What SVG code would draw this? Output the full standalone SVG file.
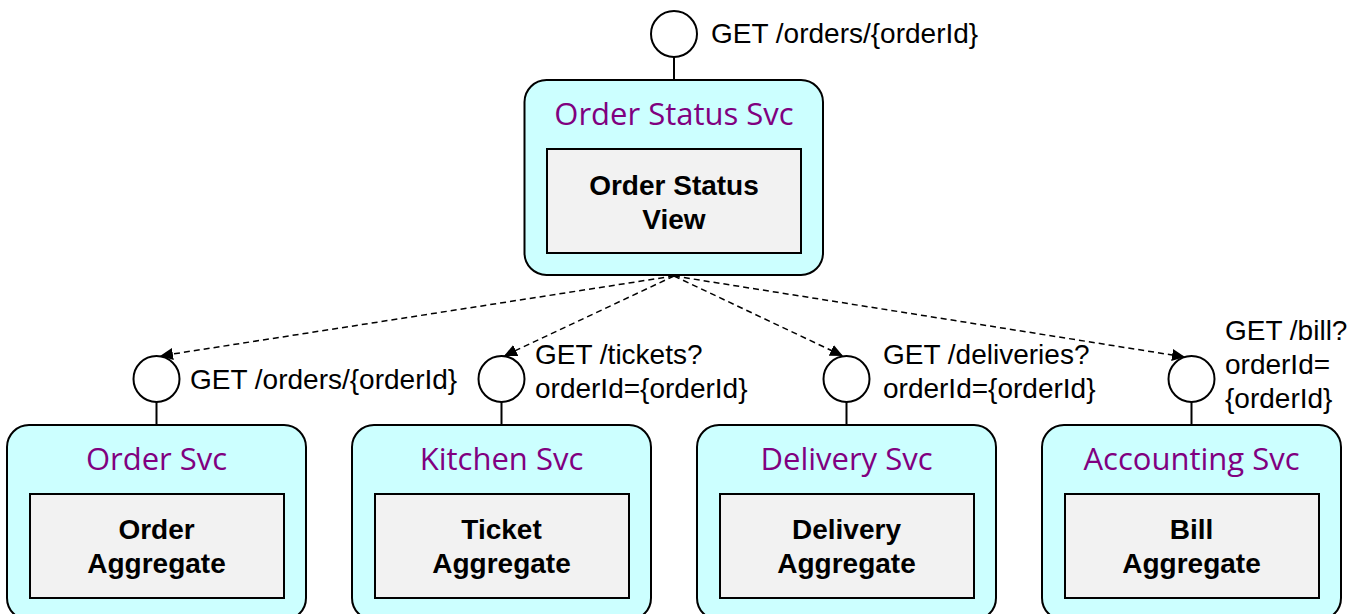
<svg xmlns="http://www.w3.org/2000/svg" width="1362" height="614" viewBox="0 0 1362 614">
<style>
.svc{fill:#ccffff;stroke:#000;stroke-width:2}
.agg{fill:#f2f2f2;stroke:#000;stroke-width:2}
.port{fill:#fff;stroke:#000;stroke-width:2}
.stem{stroke:#000;stroke-width:2;fill:none}
.title{font-family:"Open Sans","Noto Sans",sans-serif;font-size:31px;fill:#800080;text-anchor:middle}
.bold{font-family:"Liberation Sans",Arial,sans-serif;font-size:28px;font-weight:bold;fill:#000;text-anchor:middle}
.lbl{font-family:"Liberation Sans",Arial,sans-serif;font-size:28px;fill:#000}
.dash{stroke:#000;stroke-width:1.5;stroke-dasharray:6 4;fill:none;marker-end:url(#ah)}
</style>
<defs>
<marker id="ah" markerUnits="userSpaceOnUse" markerWidth="14" markerHeight="12" refX="13" refY="6" orient="auto">
<path d="M0,0 L13,6 L0,12 Z" fill="#000"/>
</marker>
</defs>
<rect width="1362" height="614" fill="#fff"/>

<g id="order-status-svc">
<line class="stem" x1="674" y1="57" x2="674" y2="80"/>
<circle class="port" cx="674" cy="34" r="23"/>
<text class="lbl" x="711" y="43">GET /orders/{orderId}</text>
<rect class="svc" x="524.5" y="80" width="298.5" height="195" rx="22"/>
<text class="title" x="674" y="125">Order Status Svc</text>
<rect class="agg" x="547" y="149" width="254" height="104"/>
<text class="bold" x="674" y="195">Order Status</text>
<text class="bold" x="674" y="229">View</text>
</g>

<g id="order-svc">
<line class="stem" x1="156.5" y1="402" x2="156.5" y2="425"/>
<circle class="port" cx="156.5" cy="379" r="23"/>
<text class="lbl" x="190" y="389">GET /orders/{orderId}</text>
<rect class="svc" x="7" y="425" width="299" height="195" rx="22"/>
<text class="title" x="156.5" y="470">Order Svc</text>
<rect class="agg" x="30" y="494" width="254" height="104"/>
<text class="bold" x="156.5" y="539">Order</text>
<text class="bold" x="156.5" y="573">Aggregate</text>
</g>

<g id="kitchen-svc">
<line class="stem" x1="501.5" y1="402" x2="501.5" y2="425"/>
<circle class="port" cx="501.5" cy="379" r="23"/>
<text class="lbl" x="535" y="364">GET /tickets?</text>
<text class="lbl" x="535" y="398">orderId={orderId}</text>
<rect class="svc" x="352" y="425" width="299" height="195" rx="22"/>
<text class="title" x="501.5" y="470">Kitchen Svc</text>
<rect class="agg" x="375" y="494" width="254" height="104"/>
<text class="bold" x="501.5" y="539">Ticket</text>
<text class="bold" x="501.5" y="573">Aggregate</text>
</g>

<g id="delivery-svc">
<line class="stem" x1="846.5" y1="402" x2="846.5" y2="425"/>
<circle class="port" cx="846.5" cy="379" r="23"/>
<text class="lbl" x="883" y="364">GET /deliveries?</text>
<text class="lbl" x="883" y="398">orderId={orderId}</text>
<rect class="svc" x="697" y="425" width="299" height="195" rx="22"/>
<text class="title" x="846.5" y="470">Delivery Svc</text>
<rect class="agg" x="720" y="494" width="254" height="104"/>
<text class="bold" x="846.5" y="539">Delivery</text>
<text class="bold" x="846.5" y="573">Aggregate</text>
</g>

<g id="accounting-svc">
<line class="stem" x1="1191.5" y1="402" x2="1191.5" y2="425"/>
<circle class="port" cx="1191.5" cy="379" r="23"/>
<text class="lbl" x="1225" y="340">GET /bill?</text>
<text class="lbl" x="1225" y="374">orderId=</text>
<text class="lbl" x="1225" y="408">{orderId}</text>
<rect class="svc" x="1042" y="425" width="299" height="195" rx="22"/>
<text class="title" x="1191.5" y="470">Accounting Svc</text>
<rect class="agg" x="1065" y="494" width="254" height="104"/>
<text class="bold" x="1191.5" y="539">Bill</text>
<text class="bold" x="1191.5" y="573">Aggregate</text>
</g>

<g id="connectors">
<line class="dash" x1="674" y1="276" x2="160" y2="356"/>
<line class="dash" x1="674" y1="276" x2="504" y2="356"/>
<line class="dash" x1="674" y1="276" x2="843" y2="356"/>
<line class="dash" x1="674" y1="276" x2="1185" y2="357"/>
</g>
</svg>
